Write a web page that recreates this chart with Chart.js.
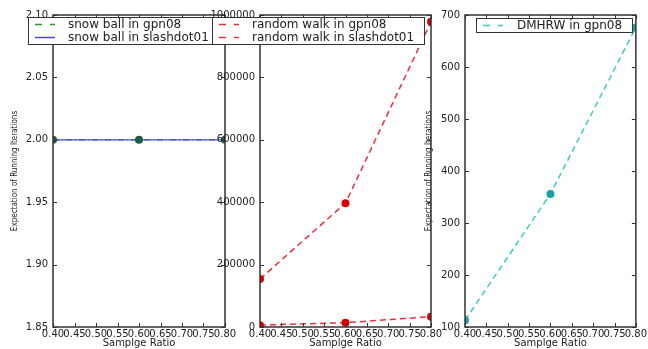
<!DOCTYPE html>
<html>
<head>
<meta charset="utf-8">
<script src="https://cdn.jsdelivr.net/npm/chart.js@4/dist/chart.umd.min.js"></script>
<style>
  body { margin: 0; background: #fff; }
  #wrap { position: relative; width: 648px; height: 349px; }
  canvas { position: absolute; left: 0; top: 0; }
</style>
</head>
<body>
<div id="wrap">
  <canvas id="snowChart" width="648" height="349"></canvas>
  <canvas id="walkChart" width="648" height="349"></canvas>
  <canvas id="dmhrwChart" width="648" height="349"></canvas>
</div>
<script>
// Sample ratios and measured values
const ratios = [0.4, 0.6, 0.8];
const snowGpn08 = [2, 2, 2];
const snowSlashdot01 = [2, 2, 2];
const walkGpn08 = [6000, 14000, 33000];
const walkSlashdot01 = [154000, 397000, 978000];
const dmhrwGpn08 = [113, 356, 676];

// Tick values
const ratioTicks = [0.4, 0.45, 0.5, 0.55, 0.6, 0.65, 0.7, 0.75, 0.8];
const snowTicks = [1.85, 1.9, 1.95, 2.0, 2.05, 2.1];
const walkTicks = [0, 200000, 400000, 600000, 800000, 1000000];
const dmhrwTicks = [100, 200, 300, 400, 500, 600, 700];

const FONT = "'DejaVu Sans', sans-serif";
const TEXT = "#222";
const FRAME = "#333";

function points(ys) {
  return ratios.map((x, i) => ({ x: x, y: ys[i] }));
}

// frame, inward ticks and boxed legend, matplotlib style
const boxLegend = {
  id: "boxLegend",
  afterDraw(chart, args, opts) {
    const ctx = chart.ctx;
    const a = chart.chartArea;
    const xs = chart.scales.x;
    const ys = chart.scales.y;
    ctx.save();
    ctx.strokeStyle = FRAME;
    ctx.lineWidth = 1.5;
    ctx.strokeRect(a.left, a.top, a.right - a.left, a.bottom - a.top);
    ctx.lineWidth = 1;
    ctx.beginPath();
    xs.ticks.forEach((t) => {
      const px = Math.round(xs.getPixelForValue(t.value)) + 0.5;
      ctx.moveTo(px, a.bottom); ctx.lineTo(px, a.bottom - 4);
      ctx.moveTo(px, a.top); ctx.lineTo(px, a.top + 4);
    });
    ys.ticks.forEach((t) => {
      const py = Math.round(ys.getPixelForValue(t.value)) + 0.5;
      ctx.moveTo(a.left, py); ctx.lineTo(a.left + 4, py);
      ctx.moveTo(a.right, py); ctx.lineTo(a.right - 4, py);
    });
    ctx.stroke();

    // legend
    const items = chart.data.datasets.filter((d) => d.label);
    const rowH = 13;
    const h = items.length * rowH + 1;
    ctx.fillStyle = "#fff";
    ctx.fillRect(opts.left, opts.top, opts.width, h);
    ctx.lineWidth = 1;
    ctx.strokeStyle = FRAME;
    ctx.strokeRect(opts.left + 0.5, opts.top + 0.5, opts.width, h);
    ctx.font = "12px " + FONT;
    ctx.textBaseline = "middle";
    items.forEach((d, i) => {
      const cy = opts.top + 7.5 + i * rowH;
      ctx.strokeStyle = d.borderColor;
      ctx.lineWidth = 1.5;
      ctx.setLineDash(d.borderDash && d.borderDash.length ? [7, 8] : []);
      ctx.beginPath();
      ctx.moveTo(opts.left + 7, cy);
      ctx.lineTo(opts.left + 27, cy);
      ctx.stroke();
      ctx.setLineDash([]);
      ctx.fillStyle = TEXT;
      ctx.fillText(d.label, opts.left + opts.textOffset, cy);
    });
    ctx.restore();
  },
};

function makeOptions(p) {
  return {
    responsive: false,
    animation: false,
    layout: { padding: { left: p.padLeft, right: p.padRight, top: 15, bottom: 0 } },
    plugins: {
      legend: { display: false },
      tooltip: { enabled: false },
      boxLegend: p.legend,
    },
    scales: {
      x: {
        type: "linear",
        min: 0.4,
        max: 0.8,
        afterBuildTicks: (s) => { s.ticks = ratioTicks.map((v) => ({ value: v })); },
        afterFit: (s) => { s.height = 22; },
        grid: { display: false, drawTicks: false },
        border: { display: false },
        ticks: {
          autoSkip: false,
          maxRotation: 0,
          padding: 1,
          color: TEXT,
          font: { family: FONT, size: 10 },
          callback: (v) => Number(v).toFixed(2),
        },
        title: {
          display: true,
          text: "Samplge Ratio",
          color: TEXT,
          padding: 0,
          font: { family: FONT, size: 10 },
        },
      },
      y: {
        min: p.yMin,
        max: p.yMax,
        afterBuildTicks: (s) => { s.ticks = p.yTicks.map((v) => ({ value: v })); },
        afterFit: (s) => { s.width = p.axisWidth; },
        grid: { display: false, drawTicks: false },
        border: { display: false },
        ticks: {
          padding: 5,
          color: TEXT,
          font: { family: FONT, size: 10 },
          callback: p.yFormat,
        },
        title: {
          display: p.yTitle,
          text: "Expectation of Running Iterations",
          color: TEXT,
          padding: { top: p.titlePad, bottom: 0 },
          font: { family: "'DejaVu Sans Condensed', 'DejaVu Sans', sans-serif", size: 8 },
        },
      },
    },
  };
}

// Snow ball chart
new Chart(document.getElementById("snowChart"), {
  type: "line",
  data: {
    datasets: [
      {
        data: points(snowGpn08),
        showLine: false,
        pointRadius: 4,
        pointBackgroundColor: "#1d5e40",
        pointBorderWidth: 0,
        clip: 0,
        order: 0,
      },
      {
        label: "snow ball in gpn08",
        data: points(snowGpn08),
        borderColor: "#2a9a2a",
        borderWidth: 1.2,
        borderDash: [6, 3, 1, 3],
        pointRadius: 0,
        order: 2,
      },
      {
        label: "snow ball in slashdot01",
        data: points(snowSlashdot01),
        borderColor: "#4a4ad8",
        borderWidth: 1.2,
        pointRadius: 0,
        order: 1,
      },
    ],
  },
  options: makeOptions({
    padLeft: 0, padRight: 423, axisWidth: 53,
    yMin: 1.85, yMax: 2.1, yTicks: snowTicks,
    yFormat: (v) => Number(v).toFixed(2),
    yTitle: true, titlePad: 10,
    legend: { left: 28, top: 17, width: 200, textOffset: 40 },
  }),
  plugins: [boxLegend],
});

// Random walk chart
new Chart(document.getElementById("walkChart"), {
  type: "line",
  data: {
    datasets: [
      {
        label: "random walk in gpn08",
        data: points(walkGpn08),
        borderColor: "#e8303a",
        borderWidth: 1.5,
        borderDash: [6, 4],
        pointRadius: 4,
        pointBackgroundColor: "#d80000",
        pointBorderWidth: 0,
        clip: 0,
      },
      {
        label: "random walk in slashdot01",
        data: points(walkSlashdot01),
        borderColor: "#e8303a",
        borderWidth: 1.5,
        borderDash: [6, 4],
        pointRadius: 4,
        pointBackgroundColor: "#d80000",
        pointBorderWidth: 0,
        clip: 0,
      },
    ],
  },
  options: makeOptions({
    padLeft: 210, padRight: 217, axisWidth: 50,
    yMin: 0, yMax: 1000000, yTicks: walkTicks,
    yFormat: (v) => String(v),
    yTitle: false, titlePad: 0,
    legend: { left: 212, top: 17, width: 212, textOffset: 40 },
  }),
  plugins: [boxLegend],
});

// DMHRW chart
new Chart(document.getElementById("dmhrwChart"), {
  type: "line",
  data: {
    datasets: [
      {
        label: "DMHRW in gpn08",
        data: points(dmhrwGpn08),
        borderColor: "#40c8c8",
        borderWidth: 1.5,
        borderDash: [6, 4],
        pointRadius: 4,
        pointBackgroundColor: "#1fa0a0",
        pointBorderWidth: 0,
        clip: 0,
      },
    ],
  },
  options: makeOptions({
    padLeft: 420, padRight: 11, axisWidth: 45,
    yMin: 100, yMax: 700, yTicks: dmhrwTicks,
    yFormat: (v) => String(v),
    yTitle: true, titlePad: 4,
    legend: { left: 476, top: 18, width: 156, textOffset: 41 },
  }),
  plugins: [boxLegend],
});
</script>
</body>
</html>
